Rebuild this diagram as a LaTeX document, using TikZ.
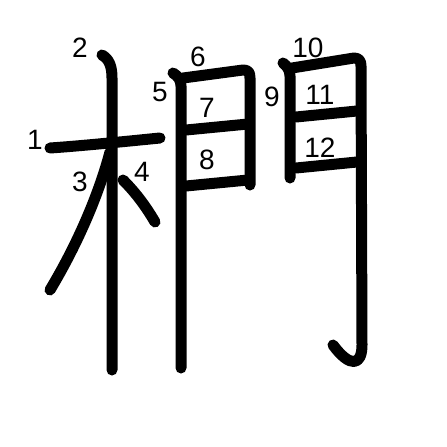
\documentclass[tikz,border=0pt]{standalone}
\usepackage{fontspec}
\setmainfont{Liberation Sans}
\begin{document}
\begin{tikzpicture}[x=1pt,y=-1pt,
  stroke/.style={line width=11pt, line cap=round, line join=round},
  num/.style={font=\fontsize{28}{28}\selectfont, inner sep=0pt}]
\useasboundingbox (0,0) rectangle (447,447);
% strokes
\draw[stroke] (50,148) .. controls (80,146) and (130,141) .. (160,138);
\draw[stroke] (102,55) .. controls (109,59) and (112,66) .. (112,78) -- (112,370);
\draw[stroke] (110,152) .. controls (100,190) and (80,240) .. (50,290);
\draw[stroke] (123,180) .. controls (135,192) and (145,205) .. (155,222);
\draw[stroke] (173,73) .. controls (178,76) and (181,80) .. (181,86) -- (181,368);
\draw[stroke] (183,78) -- (243,70) .. controls (248,70) and (250,72) .. (250,78) -- (250,185);
\draw[stroke] (186,130) -- (248,124);
\draw[stroke] (186,186) -- (248,180);
\draw[stroke] (283,63) .. controls (287,66) and (290,70) .. (290,76) -- (290,178);
\draw[stroke] (292,68) -- (354,58) .. controls (359,58) and (361,61) .. (361,66) -- (362,345) .. controls (362,366) and (350,368) .. (333,345);
\draw[stroke] (296,117) -- (357,111);
\draw[stroke] (296,168) -- (357,162);
% numbers
\node[num] (n1) at (35,140) {1};
\node[num] (n2) at (80,48) {2};
\node[num] (n3) at (80,182) {3};
\node[num] (n4) at (142,172) {4};
\node[num] (n5) at (160,92) {5};
\node[num] (n6) at (198,57) {6};
\node[num] (n7) at (207,108) {7};
\node[num] (n8) at (207,160) {8};
\node[num] (n9) at (272,97) {9};
\node[num] (n10) at (308,48) {10};
\node[num] (n11) at (320,95) {11};
\node[num] (n12) at (320,148) {12};
\end{tikzpicture}
\end{document}
